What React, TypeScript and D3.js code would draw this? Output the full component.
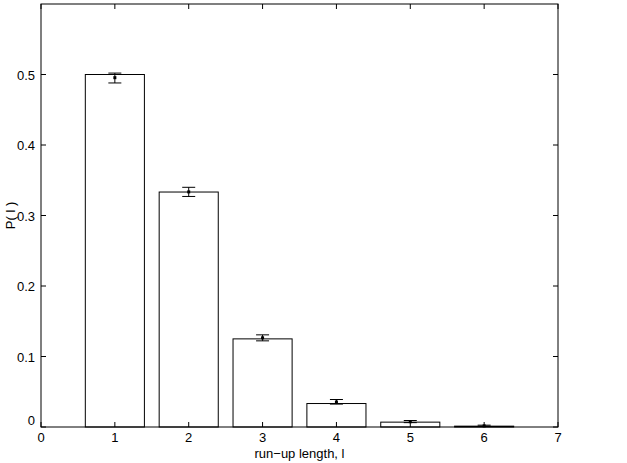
import React from "react";
import * as d3 from "d3";

const runLengths = [1, 2, 3, 4, 5, 6];
const probabilities = [0.5, 0.3333, 0.125, 0.0333, 0.0069, 0.0012];
const meanValues = [0.4955, 0.3335, 0.1265, 0.0355, 0.0075, 0.0016];
const errLow = [0.488, 0.327, 0.1222, 0.0325, 0.0062, 0.0008];
const errHigh = [0.502, 0.340, 0.1307, 0.039, 0.0092, 0.0026];
const xTicks = [0, 1, 2, 3, 4, 5, 6, 7];
const yTicks = [0, 0.1, 0.2, 0.3, 0.4, 0.5];
const yTickLabels = ["0", "0.1", "0.2", "0.3", "0.4", "0.5"];

const W = 627;
const H = 463;
const left = 41;
const right = 558;
const top = 4;
const bottom = 427;
const font = "'Liberation Sans', Arial, Helvetica, sans-serif";

export default function App() {
  const x = d3.scaleLinear().domain([0, 7]).range([left, right]);
  const y = d3.scaleLinear().domain([0, 0.6]).range([bottom, top]);
  const barW = x(0.8) - x(0);
  const tick = 5;
  const cap = 6.5;
  return (
    <svg width={W} height={H} style={{ position: "absolute", left: 0, top: 0, background: "#fff" }}>
      <rect x={0} y={0} width={W} height={H} fill="#fff" />
      {runLengths.map((l, i) => (
        <rect
          key={"b" + i}
          x={x(l) - barW / 2}
          y={y(probabilities[i])}
          width={barW}
          height={y(0) - y(probabilities[i])}
          fill="#fff"
          stroke="#000"
          strokeWidth={1}
        />
      ))}
      {runLengths.map((l, i) => (
        <g key={"e" + i} stroke="#000" strokeWidth={1}>
          <line x1={x(l)} x2={x(l)} y1={y(errLow[i])} y2={y(errHigh[i])} />
          <line x1={x(l) - cap} x2={x(l) + cap} y1={y(errLow[i])} y2={y(errLow[i])} />
          <line x1={x(l) - cap} x2={x(l) + cap} y1={y(errHigh[i])} y2={y(errHigh[i])} />
          <rect x={x(l) - 1.5} y={y(meanValues[i]) - 1.5} width={3} height={3} fill="#000" stroke="none" />
        </g>
      ))}
      <rect x={left} y={top} width={right - left} height={bottom - top} fill="none" stroke="#000" strokeWidth={1} />
      {xTicks.map((t) => (
        <g key={"xt" + t} stroke="#000">
          <line x1={x(t)} x2={x(t)} y1={bottom} y2={bottom - tick} />
          <line x1={x(t)} x2={x(t)} y1={top} y2={top + tick} />
        </g>
      ))}
      {yTicks.map((t) => (
        <g key={"yt" + t} stroke="#000">
          <line x1={left} x2={left + tick} y1={y(t)} y2={y(t)} />
          <line x1={right} x2={right - tick} y1={y(t)} y2={y(t)} />
        </g>
      ))}
      {xTicks.map((t) => (
        <text key={"xl" + t} x={x(t)} y={bottom + 15} textAnchor="middle" fontFamily={font} fontSize={13} fill="#000">
          {t}
        </text>
      ))}
      {yTicks.map((t, i) => (
        <text
          key={"yl" + t}
          x={left - 6}
          y={y(t) + (t === 0 ? -2 : 5)}
          textAnchor="end"
          fontFamily={font}
          fontSize={13}
          fill="#000"
        >
          {yTickLabels[i]}
        </text>
      ))}
      <text x={(left + right) / 2} y={458} textAnchor="middle" fontFamily={font} fontSize={13} fill="#000">
        run−up length, l
      </text>
      <text
        transform={`translate(15, ${(top + bottom) / 2}) rotate(-90)`}
        textAnchor="middle"
        fontFamily={font}
        fontSize={13}
        fill="#000"
        style={{ whiteSpace: "pre" }}
      >
        P( l )
      </text>
    </svg>
  );
}
